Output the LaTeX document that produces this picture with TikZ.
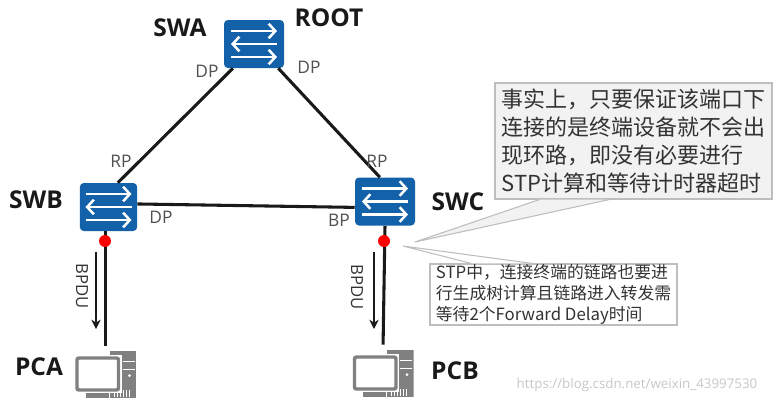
\documentclass[tikz,border=0pt]{standalone}
\usepackage{fontspec}
\setmainfont{Open Sans}
\newfontfamily\cjkfont{Noto Sans CJK SC}
\usepackage{tikz}
\usetikzlibrary{positioning, arrows.meta, calc}
\definecolor{switchblue}{RGB}{19, 97, 168}
\definecolor{pcgrey}{RGB}{128, 128, 128}
\definecolor{labelgrey}{RGB}{80, 80, 80}
\definecolor{notefill}{RGB}{242, 242, 242}
\definecolor{noteline}{RGB}{190, 190, 190}
\tikzset{
    switchbox/.style={rectangle, rounded corners=3pt, fill=switchblue, minimum width=45pt, minimum height=36pt, inner sep=0pt,
        path picture={
            \begin{scope}[shift={(path picture bounding box.center)}, white, line width=1.9pt]
                \draw [-{Straight Barb[length=5pt, width=11pt]}] (-23,-13) -- (23,-13);
                \draw [{Straight Barb[length=5pt, width=11pt]}-] (-23,0) -- (23,0);
                \draw [-{Straight Barb[length=5pt, width=11pt]}] (-23,13) -- (23,13);
            \end{scope}
        }},
    pcbox/.style={rectangle, minimum width=46pt, minimum height=36pt, inner sep=0pt,
        path picture={
            \begin{scope}[shift={(path picture bounding box.center)}]
                % tower behind the screen
                \fill [pcgrey] (4,-23.5) rectangle (30.5,23.5);
                \fill [white] (17,-14) rectangle (29,-12.5);
                \fill [white] (17,-6) rectangle (29,-4.5);
                \fill [white] (24,1) circle (1.5);
                \foreach \vx in {8,11,14,17,20,23} { \fill [white] (\vx,15) rectangle (\vx+1,22); }
                % screen and foot
                \fill [pcgrey] (-20,17) rectangle (3,23.5);
                \draw [white, line width=1pt, fill=white] (-31,-19) rectangle (15.5,18);
                \draw [pcgrey, line width=2.6pt, fill=white, rounded corners=1.5pt] (-28.5,-16.5) rectangle (13,15.5);
            \end{scope}
        }},
    link/.style={line width=2.3pt, black!90},
    portdot/.style={circle, fill=red, inner sep=0pt, minimum size=9pt},
    devlabel/.style={font=\fontsize{18.4}{21}\selectfont\bfseries, text=black!90, inner sep=0pt},
    portlabel/.style={font=\fontsize{13}{15}\selectfont, text=labelgrey, inner sep=0pt},
    bpdulabel/.style={font=\fontsize{12.5}{14}\selectfont, text=black!80, inner sep=0pt, rotate=-90},
    flowarrow/.style={-{Stealth[length=7pt, width=7pt]}, line width=0.9pt, black!90},
    notetail/.style={draw=noteline, line width=0.8pt, line join=round},
}
\begin{document}
\begin{tikzpicture}[x=0.75pt, y=-0.75pt]
    \useasboundingbox (0,0) rectangle (782,404);

    % Switches
    \node [switchbox] (swa) at (254,44) {};
    \node [switchbox, minimum width=43pt] (swb) at (108.5,207) {};
    \node [switchbox] (swc) at (385,201.5) {};

    % Terminals
    \node [pcbox] (pca) at (105.5,374.5) {};
    \node [pcbox] (pcb) at (383,373.5) {};

    % Links
    \draw [link] (swa.229) -- (swb.69);
    \draw [link] (swa.-45) -- (swc.102);
    \draw [link] (swb.6) -- (swc.191);
    \draw [link, shorten >=3.5pt] (swb.south) ++(-3,0) -- (pca.north);
    \draw [link, shorten >=3.5pt] (swc.south) -- (pcb.north);

    % Edge ports
    \node [portdot] (dota) at (105,241) {};
    \node [portdot] (dotb) at (384,241) {};

    % BPDU flow
    \coordinate (flowatop) at (96,252);
    \coordinate (flowabot) at (96,329);
    \coordinate (flowbtop) at (374,252);
    \coordinate (flowbbot) at (374,329);
    \draw [flowarrow] (flowatop) -- (flowabot);
    \draw [flowarrow] (flowbtop) -- (flowbbot);
    \node [bpdulabel] (bpdua) at (82,286) {BPDU};
    \node [bpdulabel] (bpdub) at (357,287) {BPDU};

    % Device names
    \node [devlabel] (nameswa) at (180,28) {SWA};
    \node [devlabel] (nameroot) at (329,18) {ROOT};
    \node [devlabel] (nameswb) at (36,200) {SWB};
    \node [devlabel] (nameswc) at (458,202) {SWC};
    \node [devlabel] (namepca) at (39,367) {PCA};
    \node [devlabel] (namepcb) at (455,371) {PCB};

    % Port roles
    \node [portlabel] (dpal) at (207,71) {DP};
    \node [portlabel] (dpar) at (309,67) {DP};
    \node [portlabel] (rpb) at (121,161) {RP};
    \node [portlabel] (rpc) at (377,161) {RP};
    \node [portlabel] (dpb) at (161,217) {DP};
    \node [portlabel] (bpc) at (339,220) {BP};

    % Upper note
    \node [rectangle, draw=noteline, fill=notefill, line width=0.8pt, minimum width=207.75pt, minimum height=87pt, inner sep=0pt, align=left, font=\cjkfont\fontsize{16.5}{21}\selectfont, text=black!80] (notebig) at (633.5,141) {事实上，只要保证该端口下\\连接的是终端设备就不会出\\现环路，即没有必要进行\\STP计算和等待计时器超时};
    \coordinate (notebigtip) at (415,242);
    \draw [notetail, fill=notefill] ($(notebig.south west)+(45,0)$) -- (notebigtip) -- ($(notebig.south west)+(115,0)$);

    % Lower note
    \node [rectangle, draw=noteline, fill=white, line width=0.8pt, minimum width=185.25pt, minimum height=45.75pt, inner sep=0pt, align=left, font=\cjkfont\fontsize{12.6}{15.7}\selectfont, text=black!80] (notesmall) at (553.5,294.5) {STP中，连接终端的链路也要进\\行生成树计算且链路进入转发需\\等待2个Forward Delay时间};
    \coordinate (notesmalltip) at (403,246);
    \draw [notetail, fill=white] ($(notesmall.north west)+(42,0)$) -- (notesmalltip) -- ($(notesmall.north west)+(103,0)$);

    % Watermark
    \node [font=\fontsize{10}{12}\selectfont, text=black!22, inner sep=0pt] (mark) at (637,385) {https://blog.csdn.net/weixin\_43997530};
\end{tikzpicture}
\end{document}
